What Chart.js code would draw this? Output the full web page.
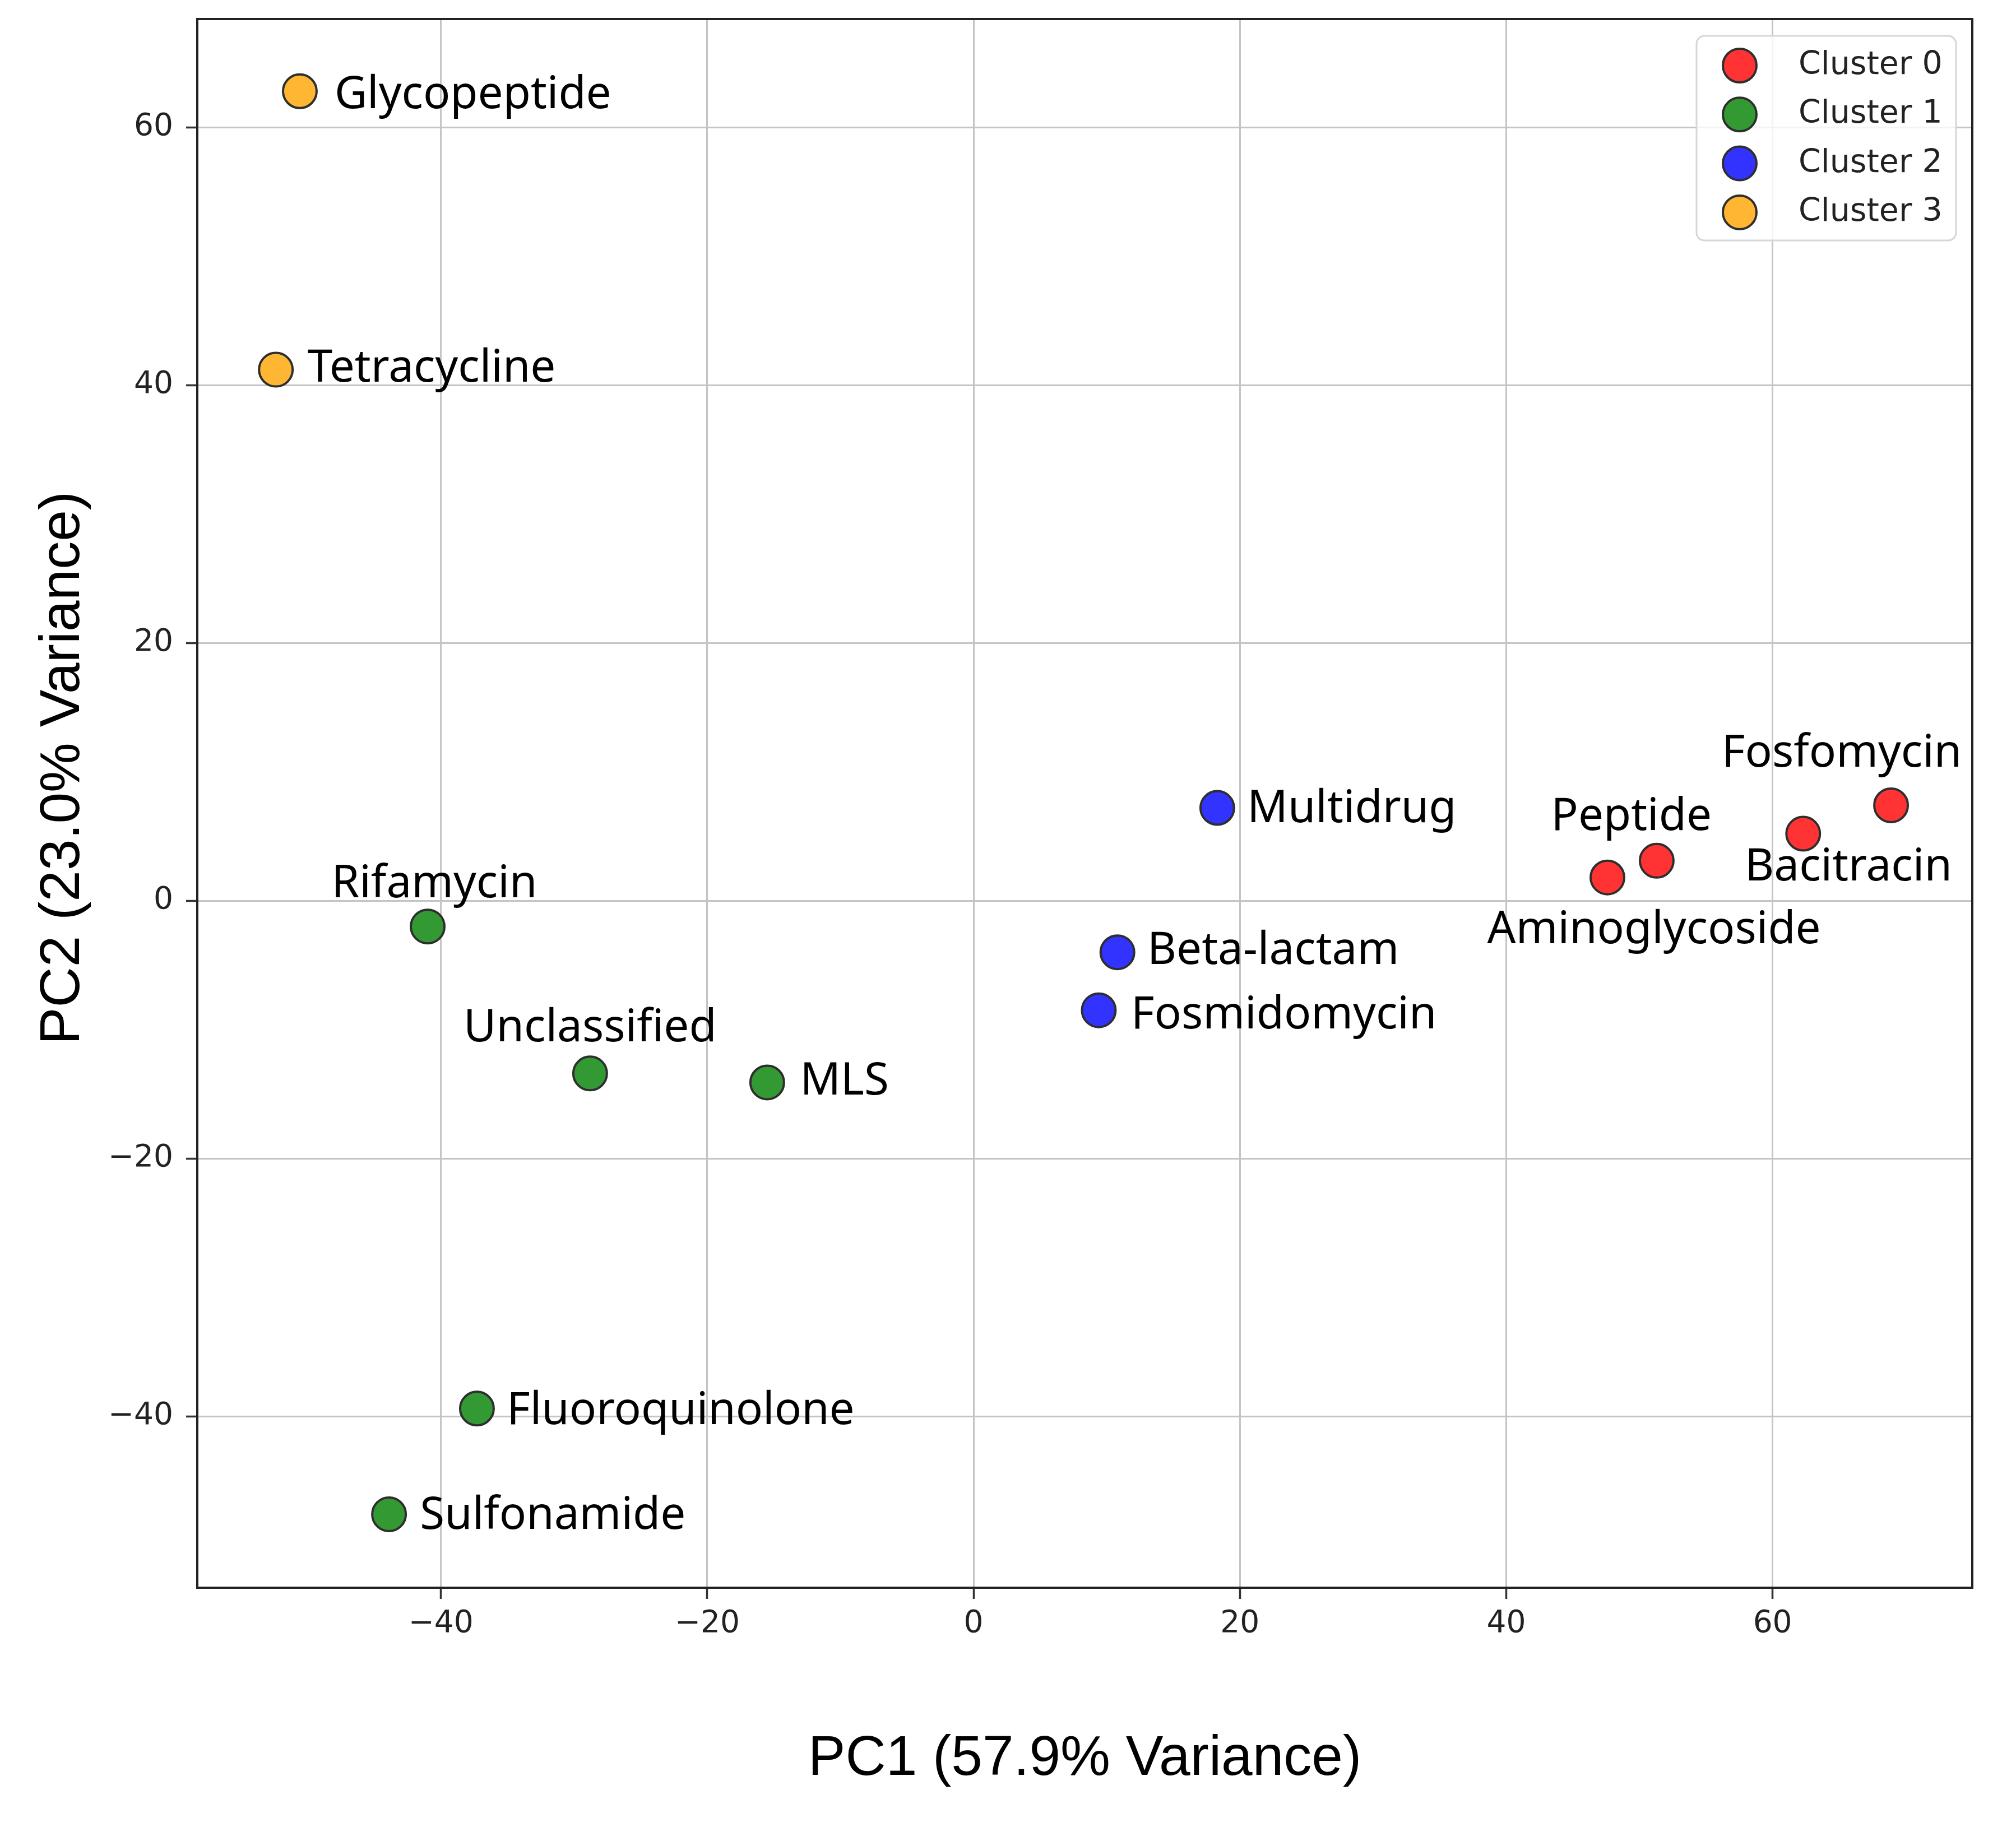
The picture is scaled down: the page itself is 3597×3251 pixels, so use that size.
<!DOCTYPE html>
<html lang="en">
<head>
  <meta charset="UTF-8">
  <title>PCA of Resistance Classes</title>
  <script src="https://cdn.jsdelivr.net/npm/chart.js"></script>
  <style>
    html, body {
      margin: 0;
      padding: 0;
      background: #ffffff;
    }
    #wrap {
      width: 3597px;
      height: 3251px;
    }
  </style>
</head>
<body>
  <div id="wrap"><canvas id="pcaChart" width="3597" height="3251"></canvas></div>

  <script>
    // values
    const drugClasses = ['Glycopeptide', 'Tetracycline', 'Rifamycin', 'Unclassified', 'MLS',
      'Fluoroquinolone', 'Sulfonamide', 'Multidrug', 'Beta-lactam', 'Fosmidomycin',
      'Aminoglycoside', 'Peptide', 'Bacitracin', 'Fosfomycin'];
    const pc1 = [-50.6, -52.4, -41.0, -28.8, -15.5, -37.3, -43.9, 18.3, 10.8, 9.4, 47.6, 51.3, 62.3, 68.9];
    const pc2 = [62.8, 41.2, -2.0, -13.4, -14.1, -39.4, -47.6, 7.2, -4.0, -8.5, 1.8, 3.1, 5.2, 7.4];
    const cluster = [3, 3, 1, 1, 1, 1, 1, 2, 2, 2, 0, 0, 0, 0];

    // where each text label sits, in data units (label centre)
    const labelX = [-37.6, -40.7, -40.5, -28.8, -9.7, -22.0, -31.6, 28.4, 22.5, 23.3, 51.1, 49.4, 65.7, 65.2];
    const labelY = [62.7, 41.5, 1.5, -9.7, -13.8, -39.4, -47.5, 7.3, -3.7, -8.7, -2.1, 6.7, 2.8, 11.6];

    const clusterNames = ['Cluster 0', 'Cluster 1', 'Cluster 2', 'Cluster 3'];
    const clusterColors = ['#ff3333', '#339933', '#3333ff', '#ffb733'];

    const xTicks = [-40, -20, 0, 20, 40, 60];
    const yTicks = [-40, -20, 0, 20, 40, 60];
    const xRange = [-58.3, 75.0];
    const yRange = [-53.3, 68.4];

    const xTitle = 'PC1 (57.9% Variance)';
    const yTitle = 'PC2 (23.0% Variance)';

    const fmtTick = v => (v < 0 ? '\u2212' + Math.abs(v) : String(v));

    const datasets = clusterNames.map((name, c) => ({
      label: name,
      data: pc1.map((v, i) => ({ x: v, y: pc2[i] })).filter((p, i) => cluster[i] === c),
      backgroundColor: clusterColors[c],
      borderColor: '#2e2e2e',
      borderWidth: 4,
      pointRadius: 30,
      pointHoverRadius: 30
    }));

    const pointLabels = {
      id: 'pointLabels',
      afterDatasetsDraw(chart) {
        const { ctx, scales: { x, y } } = chart;
        ctx.save();
        ctx.font = '80px "Noto Sans"';
        ctx.fillStyle = '#000000';
        ctx.textAlign = 'center';
        ctx.textBaseline = 'alphabetic';
        drugClasses.forEach((name, i) => {
          ctx.fillText(name, x.getPixelForValue(labelX[i]), y.getPixelForValue(labelY[i]) + 28);
        });
        ctx.restore();
      }
    };

    const frameAndTitles = {
      id: 'frameAndTitles',
      afterDraw(chart) {
        const { ctx, chartArea: a } = chart;
        ctx.save();
        ctx.strokeStyle = '#222222';
        ctx.lineWidth = 4;
        ctx.strokeRect(a.left, a.top, a.right - a.left, a.bottom - a.top);

        ctx.fillStyle = '#000000';
        ctx.font = '100px "Liberation Sans"';
        ctx.textAlign = 'center';
        ctx.textBaseline = 'alphabetic';
        ctx.fillText(xTitle, (a.left + a.right) / 2, a.bottom + 334);

        ctx.translate(a.left - 211, (a.top + a.bottom) / 2 - 63);
        ctx.rotate(-Math.PI / 2);
        ctx.fillText(yTitle, 0, 0);
        ctx.restore();
      }
    };

    const insideLegend = {
      id: 'insideLegend',
      afterDraw(chart) {
        const { ctx, chartArea: a } = chart;
        const boxW = 463, boxH = 365;
        const left = a.right - 29 - boxW;
        const top = a.top + 30;
        ctx.save();
        ctx.beginPath();
        ctx.roundRect(left, top, boxW, boxH, 14);
        ctx.fillStyle = 'rgba(255,255,255,0.8)';
        ctx.fill();
        ctx.strokeStyle = '#d6d6d6';
        ctx.lineWidth = 3;
        ctx.stroke();

        ctx.font = '57px "DejaVu Sans"';
        ctx.textAlign = 'left';
        ctx.textBaseline = 'alphabetic';
        chart.data.datasets.forEach((ds, i) => {
          const cy = top + 53 + i * 87.3;
          ctx.beginPath();
          ctx.arc(left + 77, cy, 30, 0, Math.PI * 2);
          ctx.fillStyle = ds.backgroundColor;
          ctx.fill();
          ctx.strokeStyle = ds.borderColor;
          ctx.lineWidth = ds.borderWidth;
          ctx.stroke();
          ctx.fillStyle = '#222222';
          ctx.fillText(ds.label, left + 182, cy + 15);
        });
        ctx.restore();
      }
    };

    const gridStyle = {
      color: '#c4c4c4',
      lineWidth: 3,
      drawTicks: true,
      tickLength: 20,
      tickColor: '#333333',
      tickWidth: 3.5
    };

    // keep the plot box where the reference has it
    const noEdgePadding = s => {
      s.paddingTop = 0;
      s.paddingBottom = 0;
      s.paddingLeft = 0;
      s.paddingRight = 0;
    };

    new Chart(document.getElementById('pcaChart'), {
      type: 'scatter',
      data: { datasets },
      options: {
        responsive: false,
        devicePixelRatio: 1,
        animation: false,
        layout: { padding: { top: 32, right: 78, bottom: 0, left: 0 } },
        plugins: {
          legend: { display: false },
          tooltip: { enabled: false }
        },
        scales: {
          x: {
            type: 'linear',
            min: xRange[0],
            max: xRange[1],
            afterBuildTicks: s => { s.ticks = xTicks.map(v => ({ value: v })); },
            afterFit: s => { s.height = 418; noEdgePadding(s); },
            grid: gridStyle,
            border: { display: false },
            ticks: {
              padding: 12,
              color: '#222222',
              font: { family: 'DejaVu Sans', size: 55 },
              maxRotation: 0,
              autoSkip: false,
              callback: v => fmtTick(v)
            }
          },
          y: {
            type: 'linear',
            min: yRange[0],
            max: yRange[1],
            afterBuildTicks: s => { s.ticks = yTicks.map(v => ({ value: v })); },
            afterFit: s => { s.width = 352; noEdgePadding(s); },
            grid: gridStyle,
            border: { display: false },
            ticks: {
              padding: 23,
              color: '#222222',
              font: { family: 'DejaVu Sans', size: 55 },
              autoSkip: false,
              callback: v => fmtTick(v)
            }
          }
        }
      },
      plugins: [pointLabels, frameAndTitles, insideLegend]
    });
  </script>
</body>
</html>
